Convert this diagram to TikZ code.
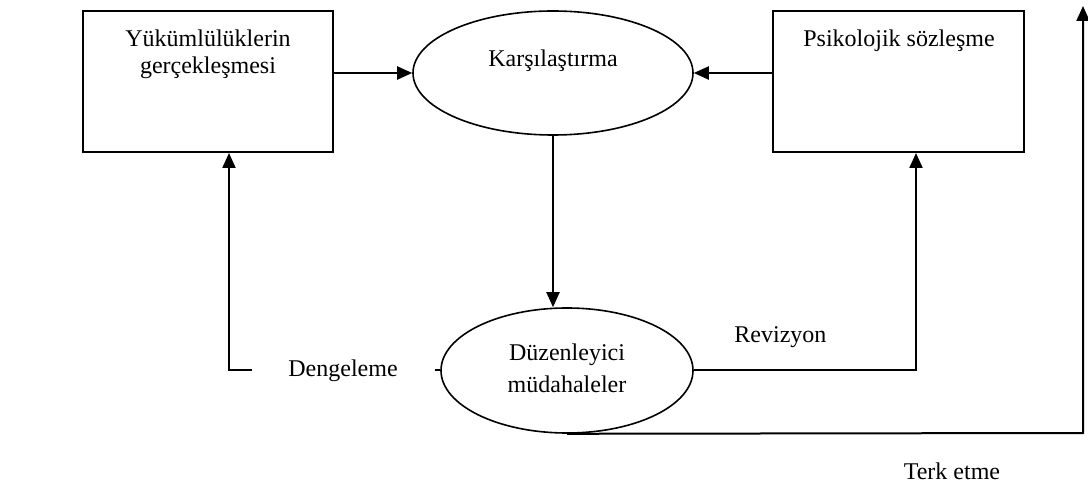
\documentclass[tikz,border=0pt]{standalone}
\usepackage{fontspec}
\setmainfont{Liberation Serif}
\usetikzlibrary{shapes.geometric,arrows.meta}
\begin{document}
\begin{tikzpicture}[x=.5pt,y=-.5pt,line width=1pt,font=\fontsize{12}{13.5}\selectfont,
  kutu/.style={draw,rectangle,inner sep=0pt,minimum height=70.5pt},
  elips/.style={draw,ellipse,inner sep=0pt,line width=.8pt},
  yazi/.style={inner sep=0pt,align=center,anchor=north},
  ok/.style={-{Triangle[length=7.5pt,width=6.5pt]}},
  etiket/.style={inner sep=0pt,fill=white}]
\useasboundingbox (0,0) rectangle (1088,486);
\node[kutu,minimum width=125pt] (yuk) at (208,81.5) {}; \node[yazi] (yukt) at (208,28.6) {Yükümlülüklerin\\gerçekleşmesi};
\node[kutu,minimum width=125.5pt] (psi) at (898.5,81.5) {}; \node[yazi] (psit) at (899,28.6) {Psikolojik sözleşme};
\node[elips,minimum width=140pt,minimum height=62pt] (kar) at (553,73) {}; \node[yazi] (kart) at (553,48.6) {Karşılaştırma};
\node[elips,minimum width=126pt,minimum height=62.5pt] (duz) at (567,370.5) {}; \node[yazi,font=\fontsize{12}{16}\selectfont] (duzt) at (567,342.6) {Düzenleyici\\müdahaleler};
\coordinate (dl) at (229,370.5); \coordinate (rv) at (916,370.5); \coordinate (tk) at (1083,433); \coordinate (tu) at (1083,6);
\draw[ok] (yuk.east |- kar.west) -- (kar.west); \draw[ok] (psi.west |- kar.east) -- (kar.east);
\draw[ok] (kar.south) -- (kar.south |- duz.north);
\draw[ok] (duz.west) -- node[etiket,pos=.46,minimum width=91.5pt,minimum height=27pt] {Dengeleme} (dl) -- (dl |- yuk.south);
\draw[ok] (duz.east) -- node[etiket,pos=.39,above=10.9pt] {Revizyon} (rv) -- (rv |- psi.south);
\draw[ok] (duz.south) -- node[etiket,pos=.746,below=14.3pt] {Terk etme} (tk) -- (tu);
\end{tikzpicture}
\end{document}
